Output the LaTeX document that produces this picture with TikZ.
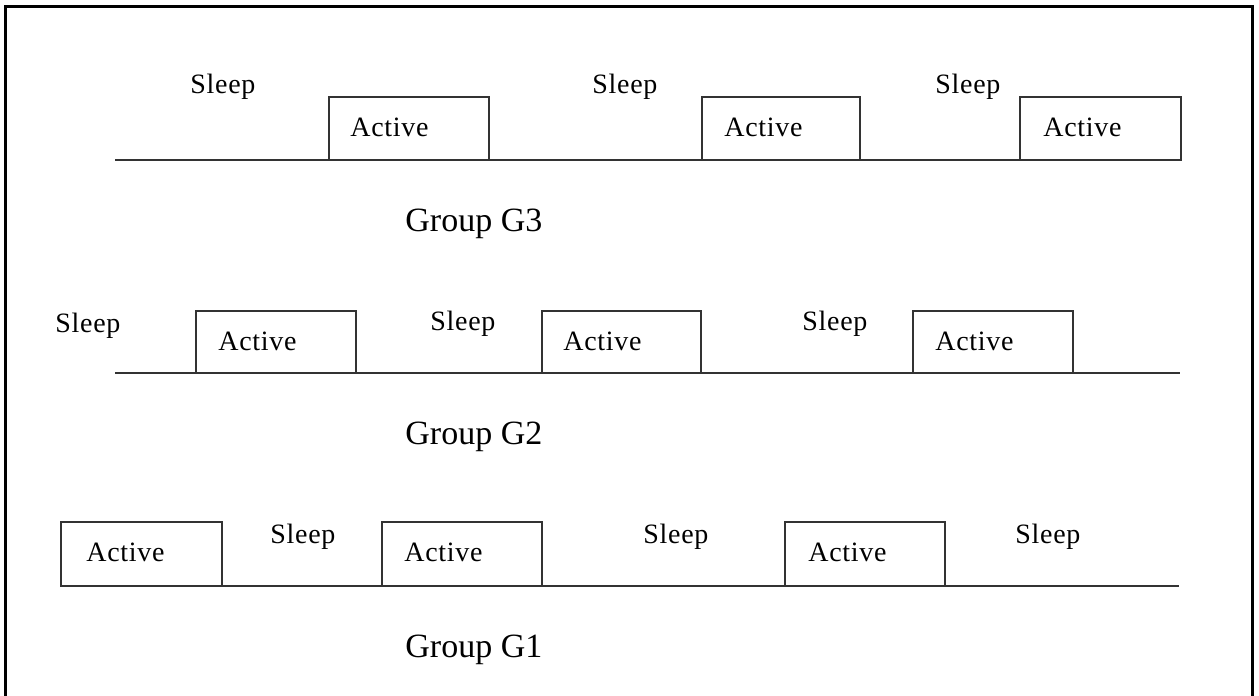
\documentclass[tikz,border=0pt]{standalone}
\usepackage{fontspec}
\setmainfont{Liberation Serif}
\newfontfamily\lblfont[LetterSpace=2.5]{Liberation Serif}
\usetikzlibrary{positioning}

\begin{document}
\begin{tikzpicture}[x=0.5pt,y=-0.5pt,
    wave/.style={draw=black!80,line width=1pt},
    lbl/.style={anchor=base west,inner sep=0pt,font=\lblfont\fontsize{14}{16}\selectfont},
    grp/.style={anchor=base west,inner sep=0pt,font=\fontsize{17}{20}\selectfont}]
    \useasboundingbox (0,0) rectangle (1259,696);
    % Frame
    \draw[line width=1.5pt] (5,696) -- (5,6) -- (1252,6) -- (1252,696);
    % Group G3
    \draw[wave] (115,160) -- (1181,160);
    \draw[wave] (329,160) rectangle (489,97);
    \draw[wave] (702,160) rectangle (860,97);
    \draw[wave] (1020,160) rectangle (1181,97);
    % Labels
    \node[lbl] (s31) at (190,93) {Sleep};
    \node[lbl] (s32) at (592,93) {Sleep};
    \node[lbl] (s33) at (935,93) {Sleep};
    \node[lbl] (a31) at (350,136) {Active};
    \node[lbl] (a32) at (724,136) {Active};
    \node[lbl] (a33) at (1043,136) {Active};
    \node[grp] (g3) at (405,231) {Group G3};
    % Group G2
    \draw[wave] (115,373) -- (1180,373);
    \draw[wave] (196,373) rectangle (356,311);
    \draw[wave] (542,373) rectangle (701,311);
    \draw[wave] (913,373) rectangle (1073,311);
    % Labels
    \node[lbl] (s21) at (55,332) {Sleep};
    \node[lbl] (s22) at (430,330) {Sleep};
    \node[lbl] (s23) at (802,330) {Sleep};
    \node[lbl] (a21) at (218,350) {Active};
    \node[lbl] (a22) at (563,350) {Active};
    \node[lbl] (a23) at (935,350) {Active};
    \node[grp] (g2) at (405,444) {Group G2};
    % Group G1
    \draw[wave] (61,586) -- (1179,586);
    \draw[wave] (61,586) rectangle (222,522);
    \draw[wave] (382,586) rectangle (542,522);
    \draw[wave] (785,586) rectangle (945,522);
    % Labels
    \node[lbl] (s11) at (270,543) {Sleep};
    \node[lbl] (s12) at (643,543) {Sleep};
    \node[lbl] (s13) at (1015,543) {Sleep};
    \node[lbl] (a11) at (86,561) {Active};
    \node[lbl] (a12) at (404,561) {Active};
    \node[lbl] (a13) at (808,561) {Active};
    \node[grp] (g1) at (405,657) {Group G1};
\end{tikzpicture}
\end{document}
